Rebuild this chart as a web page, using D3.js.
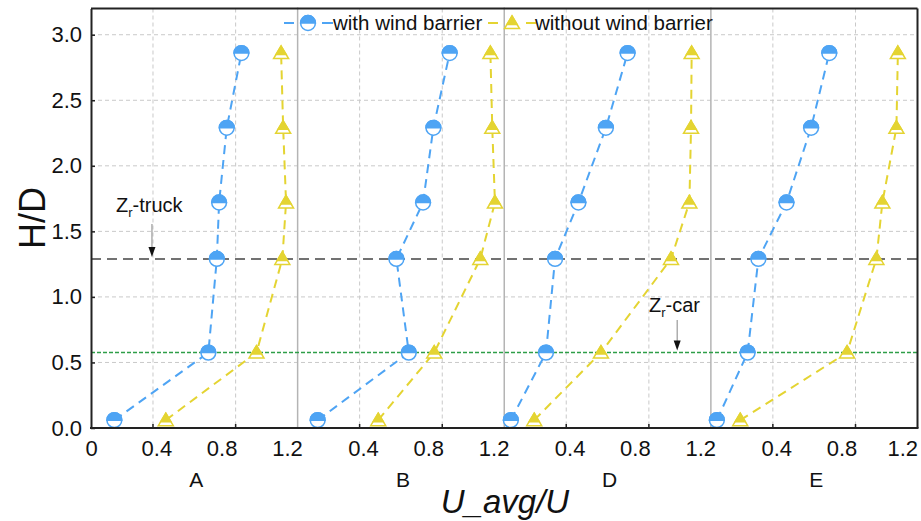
<!DOCTYPE html>
<html><head><meta charset="utf-8">
<script src="https://cdn.jsdelivr.net/npm/d3@7/dist/d3.min.js"></script>
<style>body{margin:0;background:#fff}svg{display:block;font-family:"Liberation Sans",Arial,sans-serif}</style>
</head><body><svg id="c" width="921" height="521"></svg>
<script>
// ---- data ----
const panels = ["A", "B", "D", "E"];
const heights = [0.06, 0.575, 1.29, 1.72, 2.29, 2.86];
const withBarrier = {
  A: [0.213, 0.668, 0.709, 0.720, 0.757, 0.828],
  B: [0.197, 0.638, 0.578, 0.707, 0.757, 0.836],
  D: [0.132, 0.302, 0.346, 0.459, 0.592, 0.697],
  E: [0.129, 0.278, 0.330, 0.466, 0.585, 0.673]
};
const withoutBarrier = {
  A: [0.462, 0.901, 1.026, 1.044, 1.030, 1.020],
  B: [0.490, 0.761, 0.984, 1.055, 1.042, 1.033],
  D: [0.245, 0.568, 0.907, 0.996, 1.004, 1.007],
  E: [0.242, 0.759, 0.901, 0.930, 0.998, 1.005]
};
const yTicks = [0, 0.5, 1.0, 1.5, 2.0, 2.5, 3.0];
const xGrid = [0.4, 0.8];
const xTickLabels = [0.4, 0.8, 1.2];
const zrTruck = 1.29, zrCar = 0.575;
const seriesNames = ["with wind barrier", "without wind barrier"];

// ---- layout ----
const svg = d3.select("#c");
const L = 91, R = 917.5, T = 8.5, B = 428;
const pw = (R - L) / panels.length;
const blue = "#4ea4f4", yellow = "#e4d432";
const y = d3.scaleLinear().domain([0, 3.2]).range([B, T]);
const xs = panels.map((p, i) => d3.scaleLinear().domain([0.1, 1.1]).range([L + i * pw, L + (i + 1) * pw]));
const xl = panels.map((p, i) => d3.scaleLinear().domain([0, 1.2]).range([L + i * pw, L + i * pw + 196]));

// grid
const g = svg.append("g");
g.selectAll(".hg").data(yTicks.filter(d => d > 0)).join("line")
  .attr("x1", L).attr("x2", R).attr("y1", d => y(d)).attr("y2", d => y(d))
  .attr("stroke", "#c9c9c9").attr("stroke-width", 1).attr("stroke-dasharray", "4,3");
panels.forEach((p, i) => {
  g.selectAll(".vg" + i).data(xGrid).join("line")
    .attr("x1", d => xs[i](d)).attr("x2", d => xs[i](d)).attr("y1", T).attr("y2", B)
    .attr("stroke", "#c9c9c9").attr("stroke-width", 1).attr("stroke-dasharray", "4,3");
  g.selectAll(".bt" + i).data(xGrid).join("line")
    .attr("x1", d => xs[i](d)).attr("x2", d => xs[i](d)).attr("y1", B).attr("y2", B - 4)
    .attr("stroke", "#222").attr("stroke-width", 1.5);
  if (i > 0) {
    g.append("line").attr("x1", L + i * pw).attr("x2", L + i * pw).attr("y1", T - 1).attr("y2", B)
      .attr("stroke", "#b4b4b4").attr("stroke-width", 1.5);
  }
});

// reference lines
svg.append("line").attr("x1", L).attr("x2", R).attr("y1", y(zrTruck)).attr("y2", y(zrTruck))
  .attr("stroke", "#444").attr("stroke-width", 1.5).attr("stroke-dasharray", "10,6");
svg.append("line").attr("x1", L).attr("x2", R).attr("y1", y(zrCar)).attr("y2", y(zrCar))
  .attr("stroke", "#2e9e48").attr("stroke-width", 1.5).attr("stroke-dasharray", "4,2");

// markers
function circleMarker(sel) {
  const r = 7.4;
  sel.append("circle").attr("r", r).attr("fill", "#fff").attr("stroke", blue).attr("stroke-width", 1.5);
  sel.append("path").attr("d", `M${-r},0 A${r},${r} 0 0 1 ${r},0 Z`).attr("fill", blue).attr("stroke", blue).attr("stroke-width", 1.5);
}
function triMarker(sel) {
  sel.append("path").attr("d", "M0,-7 L7.5,5.5 L-7.5,5.5 Z").attr("fill", "#fff").attr("stroke", yellow).attr("stroke-width", 1.5);
  sel.append("path").attr("d", "M0,-7 L5.1,1.5 L-5.1,1.5 Z").attr("fill", yellow).attr("stroke", yellow).attr("stroke-width", 1.5);
}

// series
panels.forEach((p, i) => {
  const x = xs[i];
  [[withBarrier[p], blue, circleMarker], [withoutBarrier[p], yellow, triMarker]].forEach(([vals, col, mk]) => {
    const pts = vals.map((v, k) => [v, heights[k]]);
    svg.append("path").datum(pts)
      .attr("d", d3.line().x(d => x(d[0])).y(d => y(d[1])))
      .attr("fill", "none").attr("stroke", col).attr("stroke-width", 2).attr("stroke-dasharray", "9,6");
    svg.append("g").selectAll("g").data(pts).join("g")
      .attr("transform", d => `translate(${x(d[0])},${y(d[1])})`)
      .each(function () { mk(d3.select(this)); });
  });
});

// frame
svg.append("line").attr("x1", L).attr("x2", R).attr("y1", T).attr("y2", T).attr("stroke", "#222").attr("stroke-width", 2);
svg.append("line").attr("x1", R).attr("x2", R).attr("y1", T).attr("y2", B).attr("stroke", "#222").attr("stroke-width", 2);

// y axis
const ya = svg.append("g").attr("transform", `translate(${L},0)`)
  .call(d3.axisLeft(y).tickValues(yTicks).tickFormat(d3.format(".1f")).tickSizeInner(-4).tickSizeOuter(0).tickPadding(9));
ya.select(".domain").attr("stroke", "#222").attr("stroke-width", 2);
ya.selectAll(".tick line").attr("stroke", "#222").attr("stroke-width", 1.5);
ya.selectAll("text").attr("font-size", 22).attr("fill", "#111").attr("font-family", "Liberation Sans, Arial, sans-serif");

// x axis
svg.append("line").attr("x1", L - 1).attr("x2", R + 1).attr("y1", B).attr("y2", B).attr("stroke", "#222").attr("stroke-width", 2);
panels.forEach((p, i) => {
  const vals = i === 0 ? [0].concat(xTickLabels) : xTickLabels;
  const xa = svg.append("g").attr("transform", `translate(0,${B})`)
    .call(d3.axisBottom(xl[i]).tickValues(vals).tickFormat(d => d === 0 ? "0" : d3.format(".1f")(d)).tickSize(0).tickPadding(12));
  xa.select(".domain").remove();
  xa.selectAll("text").attr("font-size", 22).attr("fill", "#111").attr("font-family", "Liberation Sans, Arial, sans-serif");
  if (i === panels.length - 1) {
    xa.selectAll(".tick").filter(d => d === 1.2).select("text").attr("text-anchor", "end").attr("dx", R - xl[i](1.2));
  }
  svg.append("text").attr("x", (xs[i].range()[0] + xs[i].range()[1]) / 2 + 2).attr("y", 487)
    .attr("text-anchor", "middle").attr("font-size", 21).attr("fill", "#111").text(p);
});

// axis titles
svg.append("text").attr("transform", "translate(45,218) rotate(-90)").attr("text-anchor", "middle")
  .attr("font-size", 36).attr("fill", "#111").text("H/D");
svg.append("text").attr("x", 505).attr("y", 513).attr("text-anchor", "middle")
  .attr("font-size", 33).attr("font-style", "italic").attr("fill", "#111").text("U_avg/U");

// annotations
function annot(tx, ty, label, ax, ay0, ay1) {
  const t = svg.append("text").attr("x", tx).attr("y", ty).attr("font-size", 20).attr("fill", "#111");
  t.append("tspan").text("Z");
  t.append("tspan").attr("font-size", 13).attr("dy", 5).text("r");
  t.append("tspan").attr("dy", -5).text(label);
  svg.append("line").attr("x1", ax).attr("x2", ax).attr("y1", ay0).attr("y2", ay1 - 9).attr("stroke", "#999").attr("stroke-width", 1.2);
  svg.append("path").attr("d", `M${ax - 3.5},${ay1 - 10} L${ax + 3.5},${ay1 - 10} L${ax},${ay1} Z`).attr("fill", "#111");
}
annot(116, 212, "-truck", xs[0](0.395), 224, y(zrTruck) - 2);
annot(649, 312, "-car", xs[2](0.937), 320, y(zrCar) - 2);

// legend
const lg = svg.append("g").attr("font-size", 20.5).attr("fill", "#111");
function legItem(cx, col, mk, text, tx) {
  lg.append("line").attr("x1", cx - 24).attr("x2", cx - 14).attr("y1", 23).attr("y2", 23).attr("stroke", col).attr("stroke-width", 2);
  lg.append("line").attr("x1", cx + 14).attr("x2", cx + 25).attr("y1", 23).attr("y2", 23).attr("stroke", col).attr("stroke-width", 2);
  mk(lg.append("g").attr("transform", `translate(${cx},23)`));
  lg.append("text").attr("x", tx).attr("y", 30).text(text);
}
legItem(308, blue, circleMarker, seriesNames[0], 333);
legItem(512, yellow, triMarker, seriesNames[1], 535);
</script></body></html>
